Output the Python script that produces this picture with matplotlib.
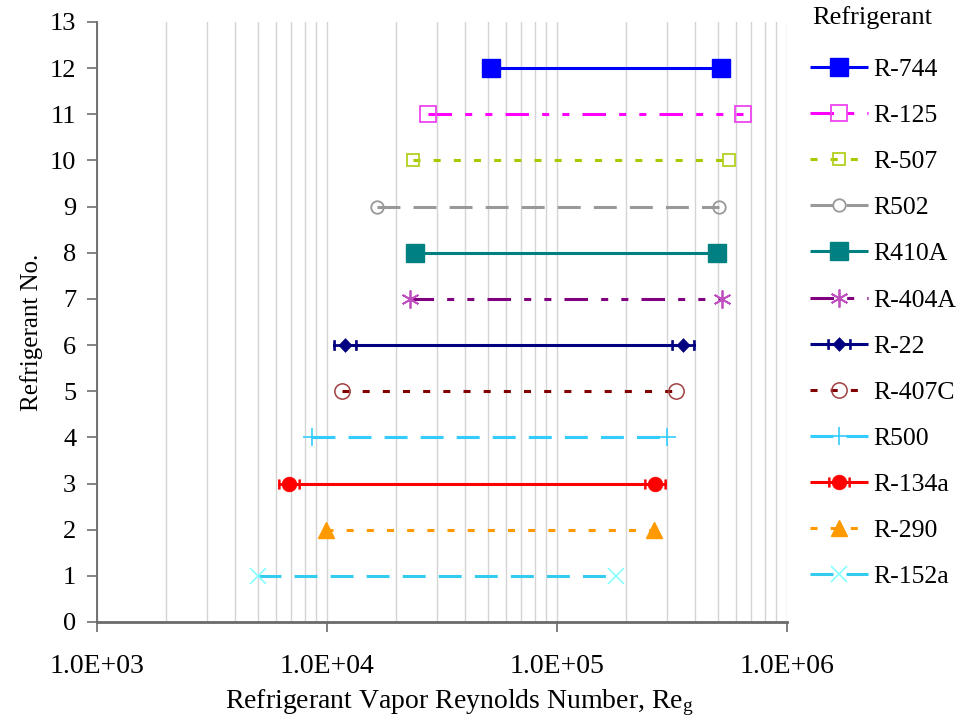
import numpy as np
import matplotlib
matplotlib.use("Agg")
import matplotlib.pyplot as plt
from matplotlib.path import Path
from matplotlib.ticker import LogLocator, FixedLocator, NullFormatter

plt.rcParams["font.family"] = ["Liberation Serif", "DejaVu Serif"]
plt.rcParams["mathtext.fontset"] = "custom"
plt.rcParams["mathtext.rm"] = "Liberation Serif"
plt.rcParams["mathtext.it"] = "Liberation Serif:italic"

# Refrigerants and their vapor Reynolds number ranges
refrigerants = ["R-744", "R-125", "R-507", "R502", "R410A", "R-404A",
                "R-22", "R-407C", "R500", "R-134a", "R-290", "R-152a"]
ref_numbers = [12, 11, 10, 9, 8, 7, 6, 5, 4, 3, 2, 1]
re_min = [51600, 27500, 23650, 16500, 24100, 22950,
          11980, 11620, 8610, 6830, 9900, 5010]
re_max = [516000, 644000, 559000, 506000, 496000, 522000,
          353000, 329000, 301000, 267000, 264000, 180500]
x_tick_values = [1e3, 1e4, 1e5, 1e6]
x_tick_labels = ["1.0E+03", "1.0E+04", "1.0E+05", "1.0E+06"]
y_ticks = list(range(0, 14))


def capped(core):
    """Marker made of a core shape flanked by short end caps."""
    bar = Path([(-1, -0.09), (1, -0.09), (1, 0.09), (-1, 0.09), (-1, -0.09)],
               closed=True)
    capl = Path([(-1, -0.42), (-0.84, -0.42), (-0.84, 0.42), (-1, 0.42), (-1, -0.42)],
                closed=True)
    capr = Path([(0.84, -0.42), (1, -0.42), (1, 0.42), (0.84, 0.42), (0.84, -0.42)],
                closed=True)
    return Path.make_compound_path(bar, capl, capr, core)


diamond_cap = capped(Path([(0, -0.58), (0.55, 0), (0, 0.58), (-0.55, 0), (0, -0.58)],
                          closed=True))
circle_cap = capped(Path.circle((0, 0), 0.66))

dash_long = (7.5, 4.3)
dash_dot = (2.3, 4.3)
dash_dd = (7.7, 4.3, 2.3, 4.3, 2.3, 4.3)

styles = [
    dict(color="#0000ff", ls="-", marker="s", ms=13, mfc="#0000ff", mec="#0000ff"),
    dict(color="#ff00ff", ls=(0, dash_dd), marker="s", ms=11, mfc="none", mec="#ee44ee", mew=1.3),
    dict(color="#a8c800", ls=(0, dash_dot), marker="s", ms=9, mfc="none", mec="#b4d020", mew=1.3),
    dict(color="#999999", ls=(0, dash_long), marker="o", ms=9, mfc="none", mec="#999999", mew=1.3),
    dict(color="#008080", ls="-", marker="s", ms=13, mfc="#008080", mec="#008080"),
    dict(color="#800080", ls=(0, dash_dd), marker=(6, 2, 0), ms=13, mec="#c050c0", mew=1.3),
    dict(color="#000080", ls="-", marker=diamond_cap, ms=17, mfc="#000080", mec="#000080", mew=0.5),
    dict(color="#800000", ls=(0, dash_dot), marker="o", ms=11, mfc="none", mec="#a04040", mew=1.1),
    dict(color="#33ccff", ls=(0, dash_long), marker="+", ms=13, mec="#33ccff", mew=1.2),
    dict(color="#ff0000", ls="-", marker=circle_cap, ms=16, mfc="#ff0000", mec="#ff0000", mew=0.5),
    dict(color="#ff9900", ls=(0, dash_dot), marker="^", ms=12, mfc="#ff9900", mec="#ff9900"),
    dict(color="#33ccee", ls=(0, dash_long), marker="x", ms=11, mec="#88ffff", mew=1.2),
]

fig = plt.figure(figsize=(9.62, 7.25), dpi=100)
ax = fig.add_axes([97 / 962, 1 - 622 / 725, 690 / 962, 600 / 725])

for name, y, lo, hi, st in zip(refrigerants, ref_numbers, re_min, re_max, styles):
    st = dict(st)
    color = st.pop("color")
    ls = st.pop("ls")
    ax.plot([lo, hi], [y, y], color=color, linestyle=ls, lw=2.2,
            label=name, solid_capstyle="butt", dash_capstyle="butt", **st)

ax.set_xscale("log")
ax.set_xlim(1e3, 1e6)
ax.set_ylim(0, 13)

ax.xaxis.set_major_locator(FixedLocator(x_tick_values))
ax.set_xticklabels(x_tick_labels)
ax.xaxis.set_minor_locator(LogLocator(base=10, subs=np.arange(2, 10)))
ax.xaxis.set_minor_formatter(NullFormatter())
ax.set_yticks(y_ticks)

ax.grid(True, axis="x", which="both", color="#d4d4d4", lw=1.0)
ax.set_axisbelow(True)

for side in ("top", "right"):
    ax.spines[side].set_visible(False)
ax.spines["left"].set_color("#707070")
ax.spines["left"].set_linewidth(1.4)
ax.spines["bottom"].set_color("#6a6a6a")
ax.spines["bottom"].set_linewidth(2.0)

ax.tick_params(axis="x", which="major", length=7, width=1.2, color="#6a6a6a",
               pad=16, labelsize=20)
ax.tick_params(axis="x", which="minor", length=0)
ax.tick_params(axis="y", length=7, width=1.2, color="#707070", pad=8, labelsize=19)

ax.set_xlabel("Refrigerant Vapor Reynolds Number, Re$_\\mathrm{g}$", fontsize=20,
              labelpad=6, x=0.525)
ax.set_ylabel("Refrigerant No.", fontsize=18, labelpad=4.5, y=0.482)

fig.text(812 / 962, 1 - 18 / 725, "Refrigerant", fontsize=19, ha="left", va="center")

leg = fig.legend(loc="upper left", bbox_to_anchor=(810 / 962, 1 - 58 / 725),
                 frameon=False, fontsize=18.5,
                 handlelength=2.25, handletextpad=0.22, labelspacing=0.9,
                 numpoints=1, borderaxespad=0, borderpad=0)

fig.savefig("out.png", dpi=100)
